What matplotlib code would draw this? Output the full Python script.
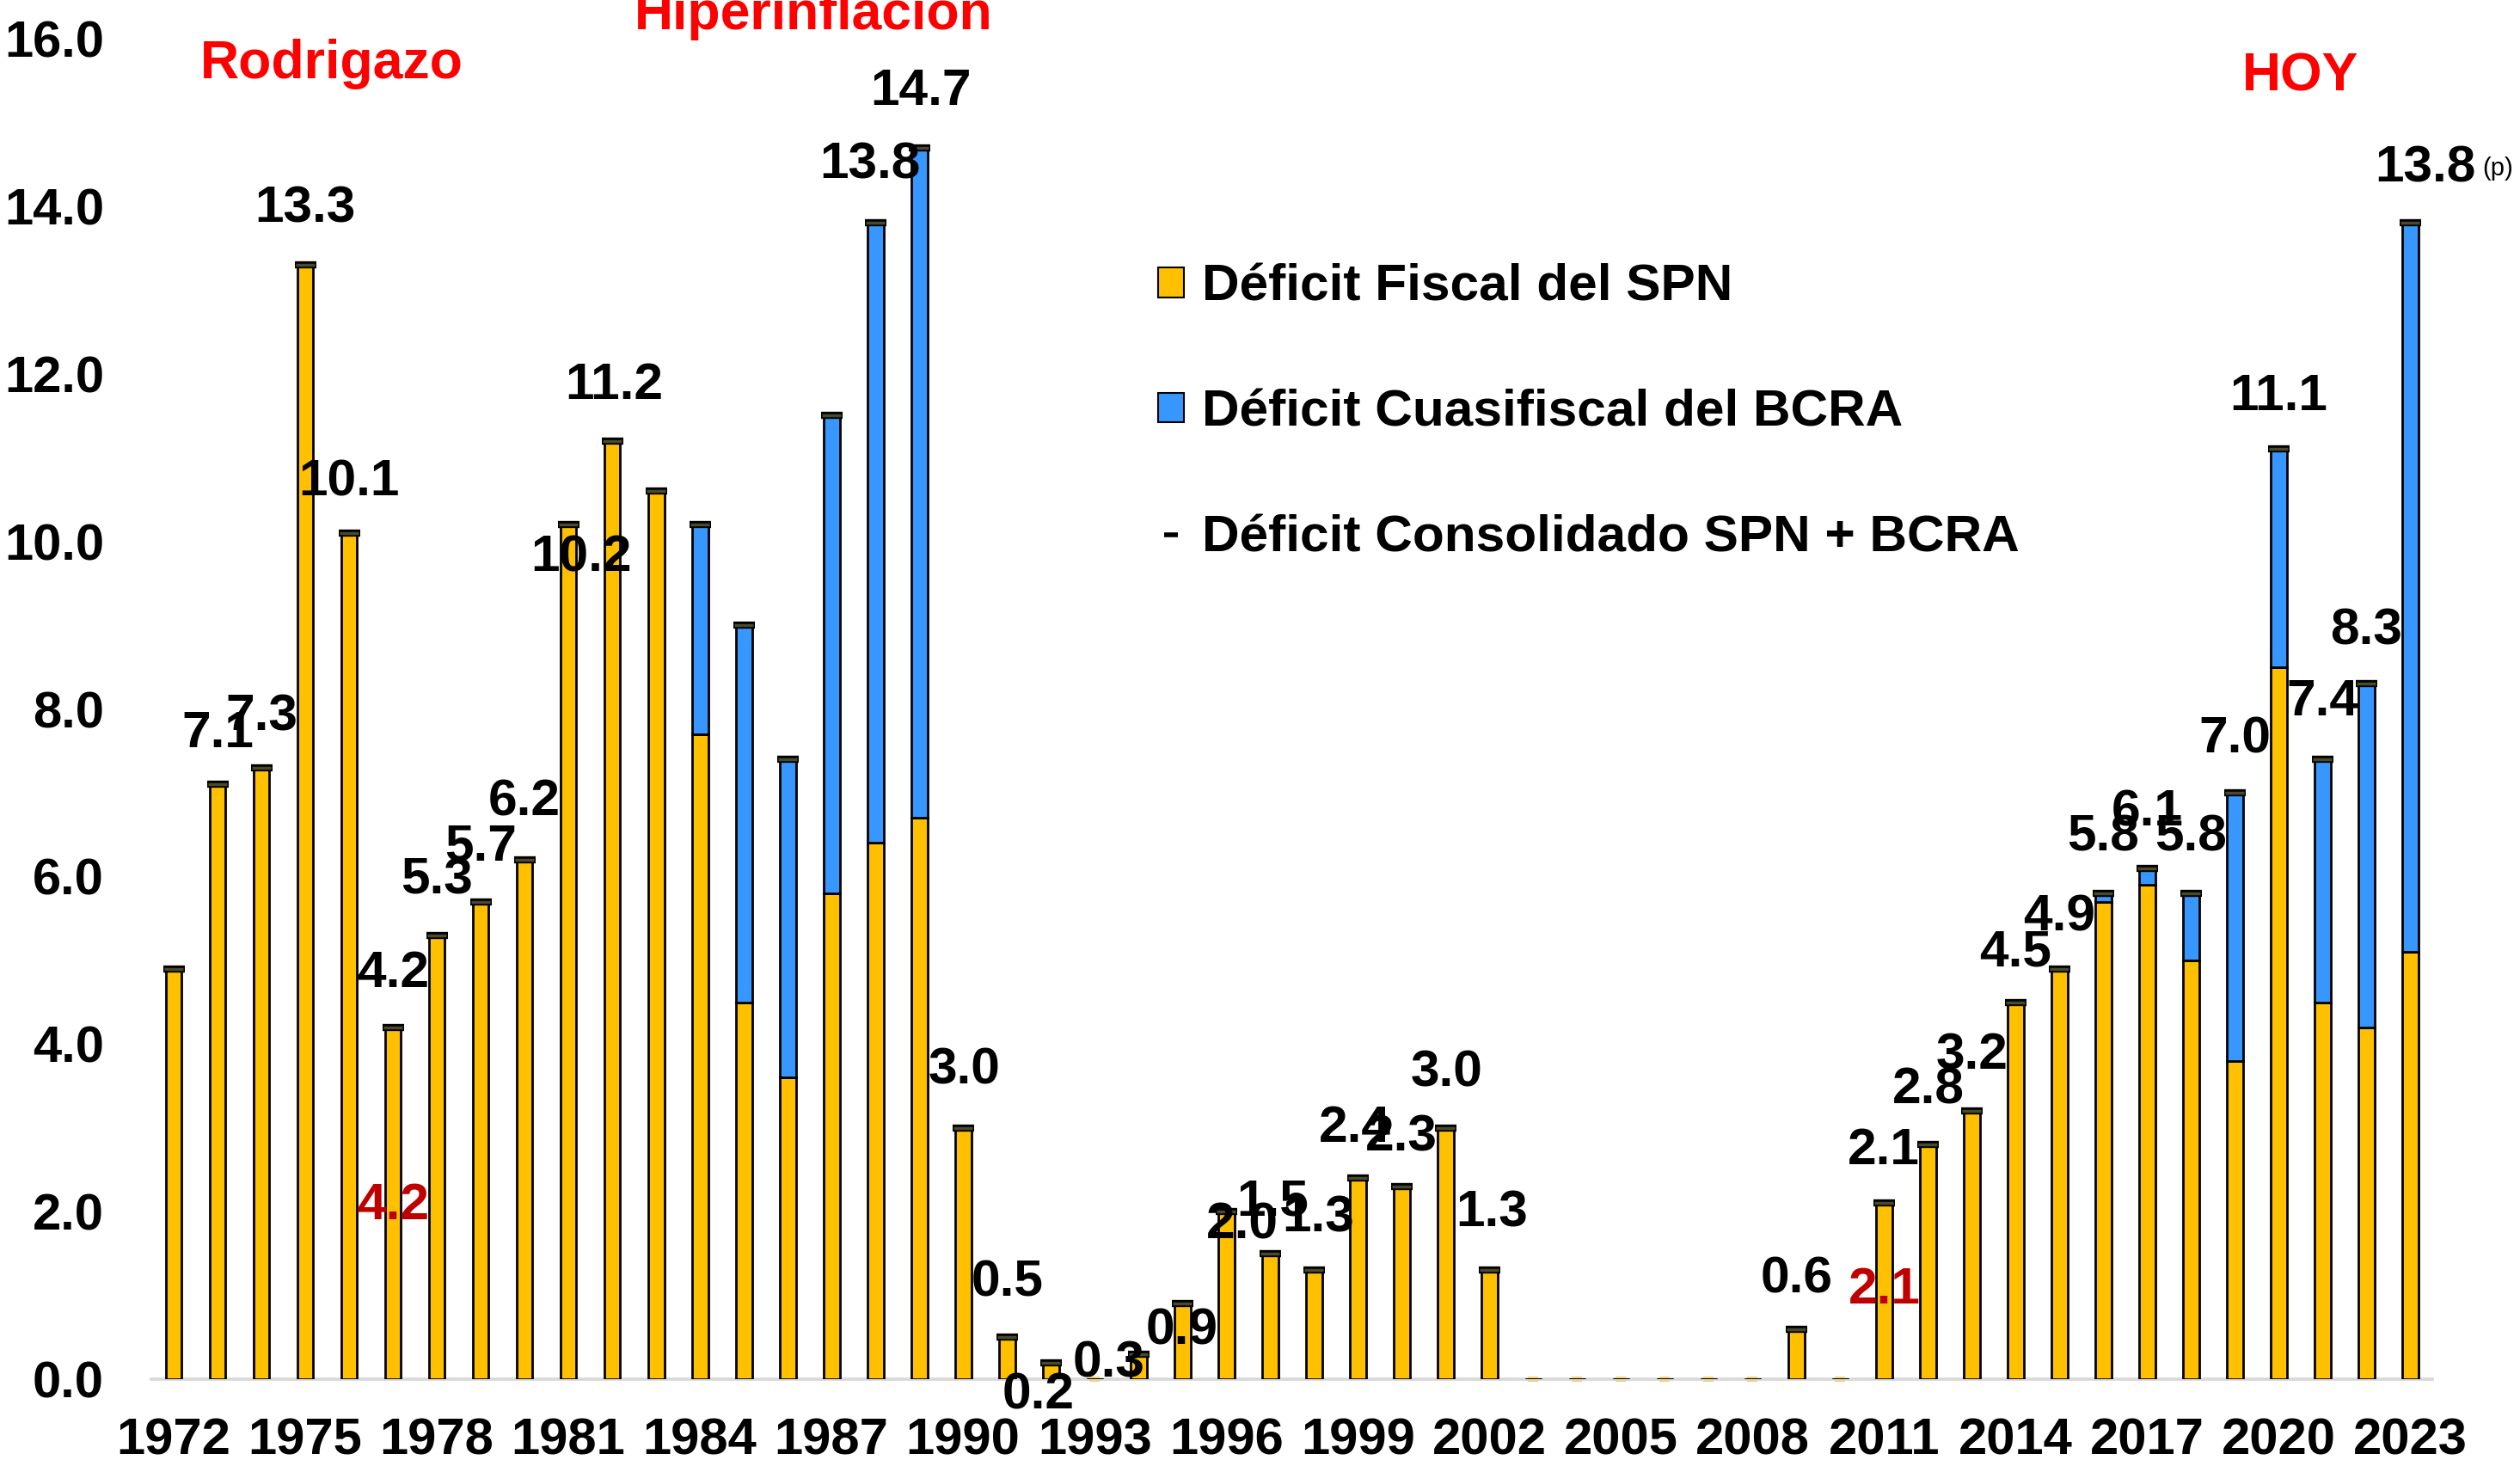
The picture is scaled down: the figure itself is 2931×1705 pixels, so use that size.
import numpy as np
import matplotlib
matplotlib.use("Agg")
import matplotlib.pyplot as plt
from matplotlib.patches import Patch
from matplotlib.lines import Line2D

plt.rcParams['font.family'] = ['Liberation Sans', 'DejaVu Sans']
plt.rcParams['font.weight'] = 'bold'

# data (% del PBI)
years = list(range(1972, 2024))
spn = [4.9, 7.1, 7.3, 13.3, 10.1, 4.2, 5.3, 5.7, 6.2, 10.2,
       11.2, 10.6, 7.7, 4.5, 3.6, 5.8, 6.4, 6.7, 3.0, 0.5,
       0.2, 0.0, 0.3, 0.9, 2.0, 1.5, 1.3, 2.4, 2.3, 3.0,
       1.3, 0.0, 0.0, 0.0, 0.0, 0.0, 0.0, 0.6, 0.0, 2.1,
       2.8, 3.2, 4.5, 4.9, 5.7, 5.9, 5.0, 3.8, 8.5, 4.5,
       4.2, 5.1]
bcra = [0.0, 0.0, 0.0, 0.0, 0.0, 0.0, 0.0, 0.0, 0.0, 0.0,
        0.0, 0.0, 2.5, 4.5, 3.8, 5.7, 7.4, 8.0, 0.0, 0.0,
        0.0, 0.0, 0.0, 0.0, 0.0, 0.0, 0.0, 0.0, 0.0, 0.0,
        0.0, 0.0, 0.0, 0.0, 0.0, 0.0, 0.0, 0.0, 0.0, 0.0,
        0.0, 0.0, 0.0, 0.0, 0.1, 0.2, 0.8, 3.2, 2.6, 2.9,
        4.1, 8.7]
total = np.array(spn) + np.array(bcra)

# where each total label sits relative to its bar top (dx years, dy points of PBI)
label_offsets = {
    1973: (0, 0.6), 1974: (0, 0.6), 1975: (0, 0.67), 1976: (0, 0.6),
    1977: (0, 0.64), 1978: (0, 0.65), 1979: (0, 0.65), 1980: (0, 0.69),
    1981: (0.3, -0.4), 1982: (0.04, 0.66), 1988: (-0.13, 0.69), 1989: (0.04, 0.67),
    1990: (0.03, 0.69), 1991: (0, 0.65), 1992: (-0.29, -0.39), 1994: (-0.67, -0.11),
    1995: (-0.02, -0.32), 1996: (0.37, -0.16), 1997: (0.06, 0.61), 1998: (0.09, 0.62),
    1999: (-0.07, 0.59), 2000: (-0.01, 0.58), 2001: (0.02, 0.65), 2002: (0.05, 0.68),
    2009: (0.01, 0.59), 2011: (-0.01, 0.63), 2012: (0, 0.65), 2013: (0, 0.66),
    2014: (0, 0.59), 2015: (0, 0.61), 2016: (0, 0.67), 2017: (0, 0.66),
    2018: (0, 0.67), 2019: (0, 0.64), 2020: (0, 0.63), 2021: (0, 0.68),
    2022: (0, 0.63), 2023: (0.34, 0.65),
}
red_labels = {1977: 2.07, 2011: 1.06}
events = [("Rodrigazo", 1975.6, 15.7), ("Hiperinflación", 1986.6, 16.28), ("HOY", 2020.5, 15.55)]

yellow = '#FFC000'
blue = '#3797FF'

fig = plt.figure(figsize=(29.31, 17.05), dpi=100)
ax = fig.add_axes([0.0602, 0.0592, 0.905, 0.9144])

ax.bar(years, spn, width=0.37, color=yellow, edgecolor='black', linewidth=2, zorder=2)
ax.bar(years, bcra, width=0.37, bottom=spn, color=blue, edgecolor='black', linewidth=2, zorder=2)
mask = total > 0
ax.plot(np.array(years)[mask], total[mask], linestyle='None', marker='_',
        markersize=18, markeredgewidth=6, color='black', zorder=3)
ax.plot(np.array(years)[mask], total[mask], linestyle='None', marker='_',
        markersize=16, markeredgewidth=2.5, color='#4a4a2a', zorder=4)
# years with no deficit: small yellow stub at the baseline
ax.plot(np.array(years)[~mask], total[~mask], linestyle='None', marker='_',
        markersize=8, markeredgewidth=4, color=yellow, zorder=1, clip_on=False)

for yr, (dx, dy) in label_offsets.items():
    v = total[years.index(yr)]
    ax.text(yr + dx, v + dy, f"{v:.1f}", ha='center', va='center', fontsize=43.5,
            fontweight='bold', zorder=5)
ax.text(2025.0, 14.45, "(p)", ha='center', va='center', fontsize=21,
        fontweight='normal', clip_on=False)

for yr, y in red_labels.items():
    v = total[years.index(yr)]
    ax.text(yr, y, f"{v:.1f}", ha='center', va='center', fontsize=43.5,
            fontweight='bold', color='#C00000', zorder=5)

for name, x, y in events:
    ax.text(x, y, name, ha='center', va='center', fontsize=45, fontweight='bold',
            color='#FF0000', clip_on=False)

ax.set_xlim(1971.5, 2023.5)
ax.set_ylim(0, 16)
ax.set_yticks(np.arange(0, 17, 2))
ax.set_yticklabels([f"{t:.1f}" for t in np.arange(0, 17, 2)])
ax.set_xticks(years[::3])
ax.tick_params(axis='both', length=0, labelsize=43)
ax.tick_params(axis='x', pad=32)
ax.tick_params(axis='y', pad=40)
for lab in ax.get_xticklabels() + ax.get_yticklabels():
    lab.set_fontweight('bold')
for s in ['top', 'right', 'left']:
    ax.spines[s].set_visible(False)
ax.spines['bottom'].set_color('#D9D9D9')
ax.spines['bottom'].set_linewidth(2.7)
ax.spines['bottom'].set_zorder(1.5)

handles = [Patch(facecolor=yellow, edgecolor='black', linewidth=1.5),
           Patch(facecolor=blue, edgecolor='black', linewidth=1.5),
           Line2D([], [], color='black', marker='_', linestyle='None', markersize=12, markeredgewidth=4)]
ax.legend(handles, ["Déficit Fiscal del SPN", "Déficit Cuasifiscal del BCRA",
                    "Déficit Consolidado SPN + BCRA"],
          loc='upper left', bbox_to_anchor=(0.4596, 0.82), bbox_transform=fig.transFigure,
          frameon=False, prop={'weight': 'bold', 'size': 43.5},
          handlelength=0.5, handleheight=0.5, handletextpad=0.35,
          labelspacing=1.5, borderpad=0, borderaxespad=0)

fig.savefig("out.png", dpi=100)
